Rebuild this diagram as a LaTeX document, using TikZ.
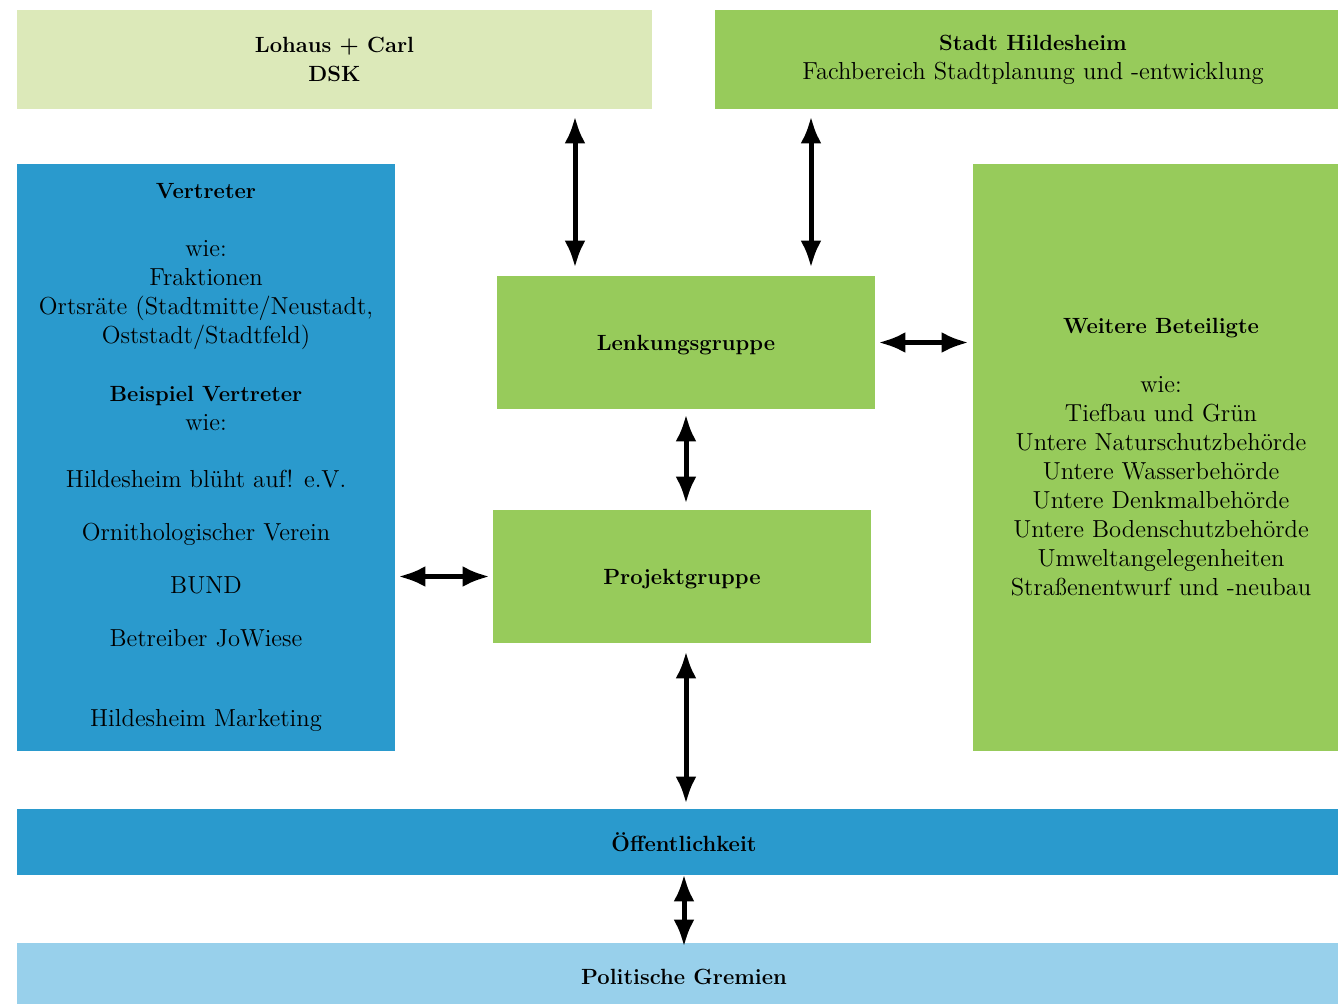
\documentclass[tikz,border=0pt]{standalone}
\usetikzlibrary{arrows.meta}
\definecolor{paleGreen}{HTML}{DCE9B9}
\definecolor{leafGreen}{HTML}{97CB5B}
\definecolor{deepBlue}{HTML}{2A9ACD}
\definecolor{skyBlue}{HTML}{98D0EB}
\newcommand{\boxhead}[1]{{\fontsize{11}{14.5}\selectfont\bfseries #1}}
\begin{document}
\begin{tikzpicture}[x=0.5pt,y=-0.5pt,>={Latex[length=13.5pt,width=10.5pt]},
  box/.style={rectangle,inner sep=0pt,align=center,font=\fontsize{12.3}{14.5}\selectfont},
  link/.style={<->,line width=2.5pt}]
  % The frame
  \useasboundingbox (0,0) rectangle (1338,1003);
  % The boxes
  \node[box,fill=paleGreen,minimum width=317.5pt,minimum height=49.5pt] (lohaus) at (334.5,59.5)
    {\boxhead{Lohaus + Carl}\\\boxhead{DSK}};
  \node[box,fill=leafGreen,minimum width=318pt,minimum height=49.5pt] (stadt) at (1033,59.5)
    {\boxhead{Stadt Hildesheim}\\Fachbereich Stadtplanung und -entwicklung};
  \node[box,fill=deepBlue,minimum width=189pt,minimum height=293.5pt] (vertreter) at (206,457.5)
    {\boxhead{Vertreter}\\[14.5pt]
     wie:\\
     Fraktionen\\
     Ortsräte (Stadtmitte/Neustadt,\\
     Oststadt/Stadtfeld)\\[14.5pt]
     \boxhead{Beispiel Vertreter}\\
     wie:\\[14pt]
     Hildesheim blüht auf! e.V.\\[12pt]
     Ornithologischer Verein\\[12pt]
     BUND\\[12pt]
     Betreiber JoWiese\\[25.5pt]
     Hildesheim Marketing};
  \node[box,fill=leafGreen,minimum width=189pt,minimum height=66.5pt,text depth=0pt] (lenkung) at (686,342.5)
    {\boxhead{Lenkungsgruppe}};
  \node[box,fill=leafGreen,minimum width=188pt,minimum height=293.5pt] (weitere) at (1161,457.5)
    {\boxhead{Weitere Beteiligte}\\[15pt]
     wie:\\
     Tiefbau und Grün\\
     Untere Naturschutzbehörde\\
     Untere Wasserbehörde\\
     Untere Denkmalbehörde\\
     Untere Bodenschutzbehörde\\
     Umweltangelegenheiten\\
     Straßenentwurf und -neubau};
  \node[box,fill=leafGreen,minimum width=189pt,minimum height=66.5pt,text depth=0pt] (projekt) at (682,576.5)
    {\boxhead{Projektgruppe}};
  \node[box,fill=deepBlue,minimum width=667pt,minimum height=33pt] (oeffentlichkeit) at (684,842)
    {\boxhead{Öffentlichkeit}};
  \node[box,fill=skyBlue,minimum width=667pt,minimum height=34pt] (gremien) at (684,977)
    {\boxhead{Politische Gremien}};
  % The arrows
  \coordinate (left) at (575,0);
  \coordinate (right) at (811,0);
  \coordinate (bottom) at (684,0);
  \draw[link,shorten <=3.5pt,shorten >=4pt] (lohaus.south -| left) -- (lenkung.north -| left);
  \draw[link,shorten <=3.5pt,shorten >=4pt] (stadt.south -| right) -- (lenkung.north -| right);
  \draw[link,shorten <=1.5pt,shorten >=2pt] (lenkung.east) -- (lenkung.east -| weitere.west);
  \draw[link,shorten <=2.5pt,shorten >=3pt] (lenkung.south) -- (projekt.north -| lenkung.south);
  \draw[link,shorten <=1.5pt,shorten >=1.5pt] (projekt.west -| vertreter.east) -- (projekt.west);
  \draw[link,shorten <=4pt,shorten >=2.5pt] (projekt.south -| lenkung.south) -- (oeffentlichkeit.north -| lenkung.south);
  \draw[link,shorten <=-0.5pt,shorten >=-2pt] (oeffentlichkeit.south -| bottom) -- (gremien.north -| bottom);
\end{tikzpicture}
\end{document}
